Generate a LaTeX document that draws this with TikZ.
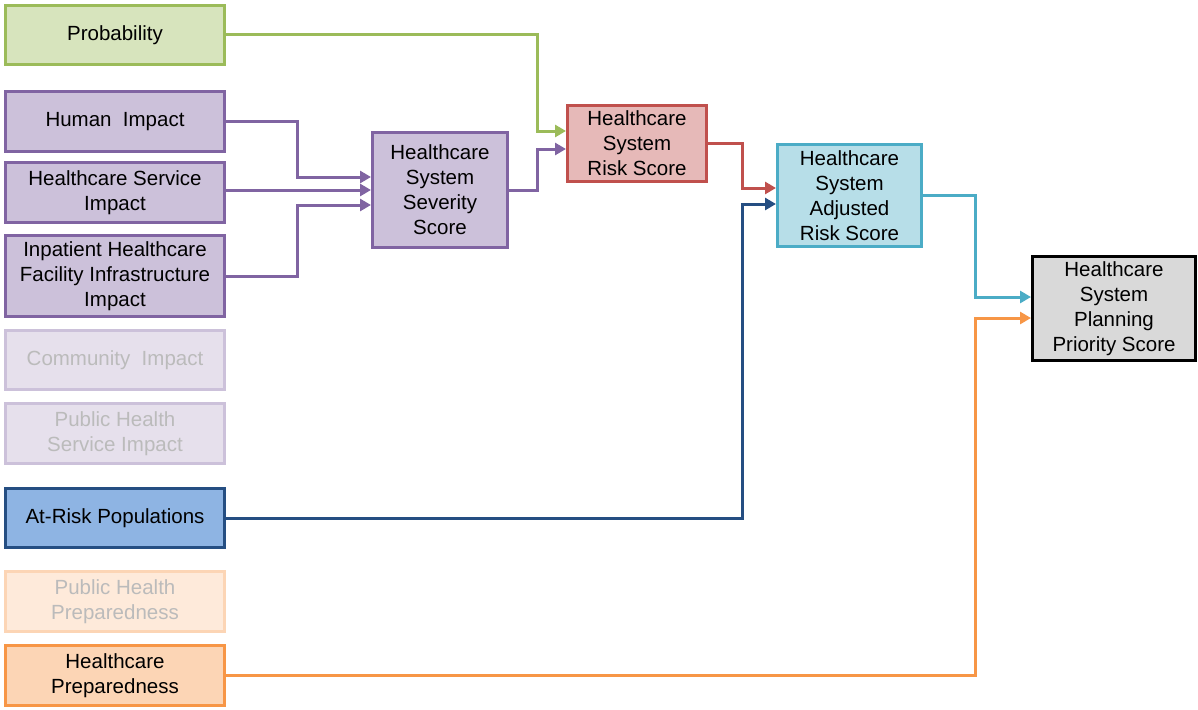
\documentclass[tikz,border=0pt]{standalone}
\usepackage{fontspec}
\setmainfont{Liberation Sans}
\usetikzlibrary{arrows.meta}

\definecolor{grnline}{HTML}{9BBB59}
\definecolor{grnfill}{HTML}{D7E4BD}
\definecolor{purline}{HTML}{8064A2}
\definecolor{purfill}{HTML}{CCC1DA}
\definecolor{redline}{HTML}{C0504D}
\definecolor{redfill}{HTML}{E6B9B8}
\definecolor{cyanline}{HTML}{4BACC6}
\definecolor{cyanfill}{HTML}{B7DEE8}
\definecolor{blueline}{HTML}{254E82}
\definecolor{bluefill}{HTML}{8EB4E3}
\definecolor{orgline}{HTML}{F79646}
\definecolor{orgfill}{HTML}{FCD5B5}
\definecolor{fadetext}{HTML}{BBBBBB}

\begin{document}
\begin{tikzpicture}[
  x=1pt, y=-1pt,
  every node/.style = {draw, line width=3pt, align=center, inner sep=0pt,
                       font=\fontsize{20.5}{25}\selectfont},
  leftbox/.style = {minimum width=219pt, minimum height=60pt},
  link/.style = {line width=3pt, -{Triangle[length=11pt,width=12pt]}},
  fadepur/.style = {leftbox, draw=purfill, fill=purfill!50, text=fadetext},
  fadeorg/.style = {leftbox, draw=orgfill, fill=orgfill!50, text=fadetext}
]
  \useasboundingbox (0,0) rectangle (1198,709);

  % inputs on the left
  \node[leftbox, draw=grnline, fill=grnfill, minimum height=59pt] (prob) at (115,35) {Probability};
  \node[leftbox, draw=purline, fill=purfill] (human) at (115,121.5) {Human\ \ Impact};
  \node[leftbox, draw=purline, fill=purfill] (service) at (115,192.5) {Healthcare Service\\Impact};
  \node[leftbox, draw=purline, fill=purfill, minimum height=81pt] (inpat) at (115,276) {Inpatient Healthcare\\Facility Infrastructure\\Impact};
  \node[fadepur, minimum height=59pt] (community) at (115,360) {Community\ \ Impact};
  \node[fadepur] (phservice) at (115,433.5) {Public Health\\Service Impact};
  \node[leftbox, draw=blueline, fill=bluefill, minimum height=59pt] (atrisk) at (115,518) {At-Risk Populations};
  \node[fadeorg] (phprep) at (115,601.5) {Public Health\\Preparedness};
  \node[leftbox, draw=orgline, fill=orgfill] (hcprep) at (115,675.5) {Healthcare\\Preparedness};

  % scores
  \node[draw=purline, fill=purfill, minimum width=135pt, minimum height=115pt] (severity) at (440,190) {Healthcare\\System\\Severity\\Score};
  \node[draw=redline, fill=redfill, minimum width=139pt, minimum height=76pt] (risk) at (637,143.5) {Healthcare\\System\\Risk Score};
  \node[draw=cyanline, fill=cyanfill, minimum width=144pt, minimum height=102pt] (adjusted) at (849.5,195.5) {Healthcare\\System\\Adjusted\\Risk Score};
  \node[draw=black, fill=black!15, minimum width=163pt, minimum height=104pt] (priority) at (1114,308.5) {Healthcare\\System\\Planning\\Priority Score};

  % connectors
  \draw[link, grnline] (prob.east) -| (537,131) -- ([yshift=12.5pt]risk.west);
  \draw[link, purline] (severity.east) -| (537,149) -- ([yshift=-5.5pt]risk.west);
  \draw[link, purline] (human.east) -| (297,177) -- ([yshift=13pt]severity.west);
  \draw[link, purline] (service.east |- severity.west) -- (severity.west);
  \draw[link, purline] (inpat.east) -| (297,205) -- ([yshift=-15pt]severity.west);
  \draw[link, redline] (risk.east) -| (742,188) -- ([yshift=7.5pt]adjusted.west);
  \draw[link, blueline] (atrisk.east) -| (742,204) -- ([yshift=-8.5pt]adjusted.west);
  \draw[link, cyanline] (adjusted.east) -| (975,297) -- ([yshift=11.5pt]priority.west);
  \draw[link, orgline] (hcprep.east) -| (975,318) -- ([yshift=-9.5pt]priority.west);
\end{tikzpicture}
\end{document}
